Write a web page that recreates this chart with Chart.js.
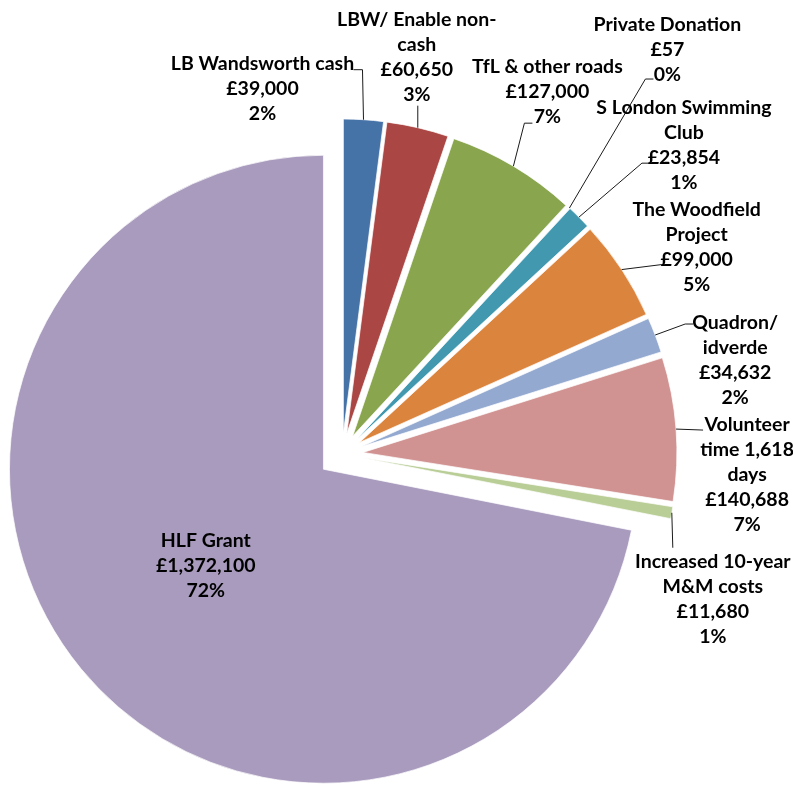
<!DOCTYPE html>
<html><head><meta charset="utf-8">
<script src="https://cdn.jsdelivr.net/npm/chart.js@4"></script>
<style>html,body{margin:0;padding:0;background:#fff;}</style>
</head><body>
<canvas id="c" width="793" height="785"></canvas>
<script>
// ---- data ----
const categories = [
  ['LB Wandsworth cash'],
  ['LBW/ Enable non-', 'cash'],
  ['TfL & other roads'],
  ['Private Donation'],
  ['S London Swimming', 'Club'],
  ['The Woodfield', 'Project'],
  ['Quadron/', 'idverde'],
  ['Volunteer', 'time 1,618', 'days'],
  ['Increased 10-year', 'M&M costs'],
  ['HLF Grant']
];
const amounts = [39000, 60650, 127000, 57, 23854, 99000, 34632, 140688, 11680, 1372100];

// ---- styles / layout ----
const colours = ['#4572A7', '#AA4643', '#89A54E', '#71588F', '#4198AF', '#DB843D', '#93A9CF', '#D19392', '#B9CD96', '#A99BBD'];
const explode = [21, 21, 21, 21, 21, 21, 21, 21, 21, 24];
// label block offsets (centre x, first-line centre y) relative to the slice's outer mid point
const labelOffsets = [[-101, -56], [-1, -108], [34, -99], [98, -183], [105, -109], [75, -60], [80, -12], [71, -4], [41, 49], null];
const leaderPaths = [
  [[-1, -50], [-10, -50]],
  [[0, -22]],
  [[11, -43], [19, -43]],
  [[76, -129], [84, -129]],
  [[63, -54], [71, -54]],
  [[40, -5]],
  [[30, -11], [38, -11]],
  [[27, 1]],
  [[1, 35]],
  null
];
const LINE_H = 25;
const FONT_FAMILY = 'Lato, "Liberation Sans", sans-serif';

const total = amounts.reduce((a, b) => a + b, 0);

function fmtMoney(v) { return '\u00A3' + v.toLocaleString('en-GB'); }
function pct(v) { return Math.round(v / total * 100) + '%'; }

const explodePlugin = {
  id: 'explodeDraw',
  beforeDatasetDraw(chart, args) {
    const ctx = chart.ctx;
    args.meta.data.forEach((arc, i) => {
      const mid = (arc.startAngle + arc.endAngle) / 2;
      const e = explode[i];
      ctx.save();
      ctx.translate(Math.cos(mid) * e, Math.sin(mid) * e);
      arc.draw(ctx);
      ctx.restore();
    });
    return false;
  },
  afterDatasetsDraw(chart) {
    const ctx = chart.ctx;
    const meta = chart.getDatasetMeta(0);
    ctx.save();
    ctx.font = 'bold 100px ' + FONT_FAMILY;
    const w100 = ctx.measureText('LB Wandsworth cash').width;
    const fs = Math.round(100 * 183 / w100 * 10) / 10;
    ctx.font = 'bold ' + fs + 'px ' + FONT_FAMILY;
    ctx.fillStyle = '#000';
    ctx.textAlign = 'center';
    ctx.textBaseline = 'middle';
    ctx.strokeStyle = '#1a1a1a';
    ctx.lineWidth = 1;
    meta.data.forEach((arc, i) => {
      const mid = (arc.startAngle + arc.endAngle) / 2;
      const e = explode[i];
      const R = arc.outerRadius;
      const lines = categories[i].concat([fmtMoney(amounts[i]), pct(amounts[i])]);
      if (labelOffsets[i] === null) {
        // inside label
        const cx = arc.x + Math.cos(mid) * (e + 0.485 * R);
        const cy = arc.y + Math.sin(mid) * (e + 0.485 * R);
        const y0 = cy - (lines.length - 1) / 2 * LINE_H;
        lines.forEach((t, k) => ctx.fillText(t, cx, y0 + k * LINE_H));
        return;
      }
      const ax = arc.x + Math.cos(mid) * (e + R);
      const ay = arc.y + Math.sin(mid) * (e + R);
      // leader line
      ctx.beginPath();
      ctx.moveTo(ax, ay);
      leaderPaths[i].forEach(p => ctx.lineTo(ax + p[0], ay + p[1]));
      ctx.stroke();
      const lx = ax + labelOffsets[i][0];
      const ly = ay + labelOffsets[i][1];
      lines.forEach((t, k) => ctx.fillText(t, lx, ly + k * LINE_H));
    });
    ctx.restore();
  }
};

new Chart(document.getElementById('c'), {
  type: 'pie',
  data: {
    labels: categories,
    datasets: [{
      data: amounts,
      backgroundColor: colours,
      borderColor: 'rgba(255,255,255,0.7)',
      borderWidth: 1
    }]
  },
  options: {
    responsive: false,
    devicePixelRatio: 1,
    animation: false,
    events: [],
    radius: 314,
    layout: { padding: { left: 0, right: 109, top: 123, bottom: 0 } },
    plugins: { legend: { display: false }, tooltip: { enabled: false } }
  },
  plugins: [explodePlugin]
});
</script>
</body></html>
